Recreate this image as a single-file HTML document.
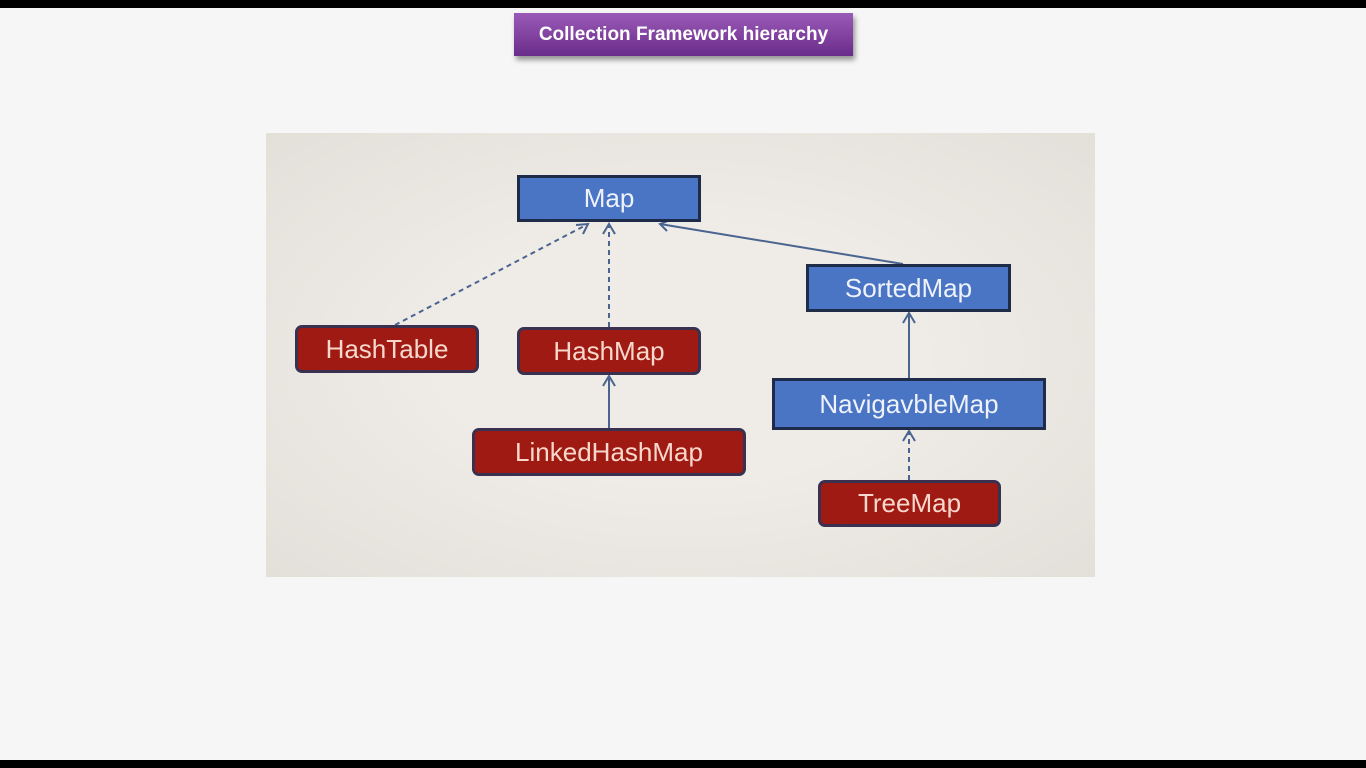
<!DOCTYPE html>
<html><head><meta charset="utf-8"><style>
html,body{margin:0;padding:0}
body{width:1366px;height:768px;background:#f7f6f6;position:relative;overflow:hidden;font-family:"Liberation Sans",sans-serif}
.bar{position:absolute;left:0;width:1366px;background:#000}
.title{position:absolute;left:514px;top:13px;width:339px;height:43px;background:linear-gradient(#9a5ab8,#6a2c8a);color:#fff;font-weight:bold;font-size:19px;line-height:43px;text-align:center;box-shadow:2px 4px 5px rgba(0,0,0,.4)}
.panel{position:absolute;left:266px;top:133px;width:829px;height:444px;background:radial-gradient(ellipse at center,#efece7 40%,#e3dfd9 100%)}
.n{position:absolute;box-sizing:border-box;color:#f4e8e4;text-align:center;font-size:26px;white-space:nowrap}
.b{background:#4a74c4;border:3px solid #1e2c4a;color:#eef2fa}
.r{background:#9e1a12;border:3px solid #3a3050;border-radius:7px;color:#f8d8cc}
</style></head><body>
<div class="bar" style="top:0;height:8px"></div>
<div class="bar" style="top:760px;height:8px"></div>
<div class="title">Collection Framework hierarchy</div>
<div class="panel"></div>
<svg style="position:absolute;left:0;top:0" width="1366" height="768">
<g stroke="#4a6490" stroke-width="2" fill="none">
<line x1="395" y1="325" x2="588" y2="224" stroke-dasharray="5,4"/>
<polyline points="576,225 588,224 583,234"/>
<line x1="609" y1="327" x2="609" y2="224" stroke-dasharray="5,4"/>
<polyline points="603,234 609,224 615,234"/>
<line x1="903" y1="264" x2="660" y2="224"/>
<polyline points="668,221 660,224 667,231"/>
<line x1="909" y1="378" x2="909" y2="313"/>
<polyline points="903,323 909,313 915,323"/>
<line x1="609" y1="428" x2="609" y2="376"/>
<polyline points="603,386 609,376 615,386"/>
<line x1="909" y1="480" x2="909" y2="431" stroke-dasharray="5,4"/>
<polyline points="903,441 909,431 915,441"/>
</g></svg>
<div class="n b" style="left:517px;top:175px;width:184px;height:47px;line-height:41px">Map</div>
<div class="n b" style="left:806px;top:264px;width:205px;height:48px;line-height:42px">SortedMap</div>
<div class="n r" style="left:295px;top:325px;width:184px;height:48px;line-height:42px">HashTable</div>
<div class="n r" style="left:517px;top:327px;width:184px;height:48px;line-height:42px">HashMap</div>
<div class="n b" style="left:772px;top:378px;width:274px;height:52px;line-height:46px">NavigavbleMap</div>
<div class="n r" style="left:472px;top:428px;width:274px;height:48px;line-height:42px">LinkedHashMap</div>
<div class="n r" style="left:818px;top:480px;width:183px;height:47px;line-height:41px">TreeMap</div>
</body></html>
